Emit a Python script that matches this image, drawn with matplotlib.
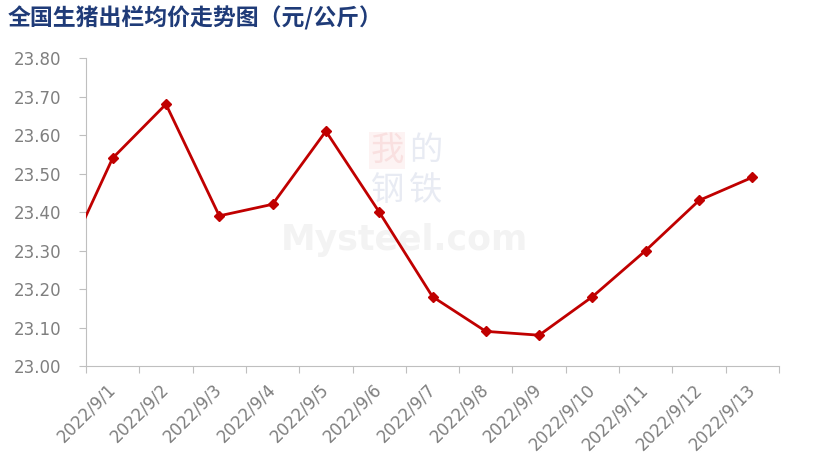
import matplotlib
matplotlib.use('Agg')
import matplotlib.pyplot as plt

plt.rcParams['font.family'] = ['DejaVu Sans', 'Noto Sans CJK SC']

# 日期与均价（元/公斤）
dates = ['2022/9/1', '2022/9/2', '2022/9/3', '2022/9/4', '2022/9/5', '2022/9/6', '2022/9/7',
         '2022/9/8', '2022/9/9', '2022/9/10', '2022/9/11', '2022/9/12', '2022/9/13']
prices = [23.54, 23.68, 23.39, 23.42, 23.61, 23.40, 23.18,
          23.09, 23.08, 23.18, 23.30, 23.43, 23.49]
# 前一日（8/31）数据，图中被左轴截断
prev_price = 23.24

yticks = [23.00, 23.10, 23.20, 23.30, 23.40, 23.50, 23.60, 23.70, 23.80]

fig = plt.figure(figsize=(8.15, 4.61), dpi=100)
ax = fig.add_axes([86 / 815, 1 - 366 / 461, (779 - 86) / 815, (366 - 58) / 461])

xs = list(range(-1, len(prices)))
ax.plot(xs, [prev_price] + prices, color='#C00000', linewidth=2.0,
        marker='D', markersize=5.5, markevery=list(range(1, len(xs))), zorder=3)

# 水印
wm = dict(transform=ax.transAxes, ha='center', va='center', fontsize=24,
          family=['Noto Sans CJK SC'], zorder=1)
ax.text(0.435, 0.70, '我', color='#f9e0e0',
        bbox=dict(facecolor='#fdf3f3', edgecolor='none', pad=1), **wm)
ax.text(0.49, 0.70, '的', color='#e8ebf3', **wm)
ax.text(0.435, 0.57, '钢', color='#e8ebf3', **wm)
ax.text(0.49, 0.57, '铁', color='#e8ebf3', **wm)
ax.text(0.46, 0.41, 'Mysteel.com', transform=ax.transAxes, ha='center', va='center',
        fontsize=25, fontweight='bold', color='#f3f3f3', zorder=1)

ax.set_xlim(-0.5, len(dates) - 0.5)
ax.set_ylim(23.0, 23.8)
ax.set_yticks(yticks)
ax.set_yticklabels([f'{v:.2f}' for v in yticks])
ax.set_xticks([i - 0.5 for i in range(len(dates) + 1)], minor=False)
ax.set_xticklabels([])
ax.set_xticks(range(len(dates)), minor=True)
ax.set_xticklabels(dates, minor=True, rotation=45, ha='right', va='center',
                   rotation_mode='anchor')
ax.tick_params(axis='x', which='minor', length=0, pad=15, labelsize=12, labelcolor='#7f7f7f')
ax.tick_params(axis='x', which='major', length=5, color='#bfbfbf')
ax.tick_params(axis='y', length=5, color='#bfbfbf', pad=13, labelsize=12, labelcolor='#7f7f7f')

for s in ['top', 'right']:
    ax.spines[s].set_visible(False)
for s in ['left', 'bottom']:
    ax.spines[s].set_color('#bfbfbf')

fig.text(8 / 815, 1 - 18 / 461, '全国生猪出栏均价走势图（元/公斤）', ha='left', va='center',
         fontsize=16.5, fontweight='bold', family=['Noto Sans CJK SC'], color='#1F3B78')

fig.savefig('out.png', dpi=100)
